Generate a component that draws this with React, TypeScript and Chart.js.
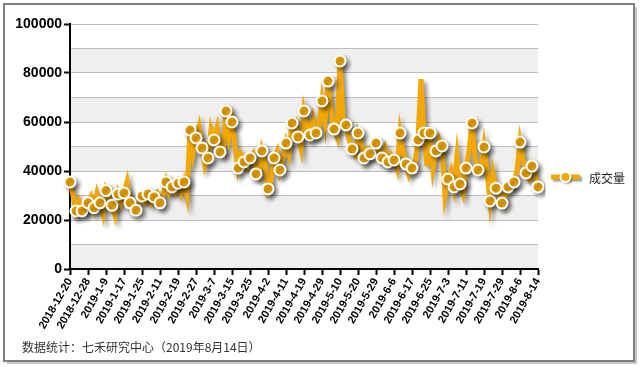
import React, { useEffect, useRef } from 'react';
import { Chart, registerables } from 'chart.js';

Chart.register(...registerables);

// ---- data ----
const days2018 = ['12-20', '12-21', '12-24', '12-25', '12-26', '12-27', '12-28'];
const days2019 = [
  '1-2', '1-3', '1-4', '1-7', '1-8', '1-9', '1-10', '1-11', '1-14', '1-15', '1-16', '1-17', '1-18',
  '1-21', '1-22', '1-23', '1-24', '1-25', '1-28', '1-29', '1-30', '1-31', '2-1',
  '2-11', '2-12', '2-13', '2-14', '2-15', '2-18', '2-19', '2-20', '2-21', '2-22', '2-25', '2-26', '2-27', '2-28',
  '3-1', '3-4', '3-5', '3-6', '3-7', '3-8', '3-11', '3-12', '3-13', '3-14', '3-15', '3-18', '3-19', '3-20',
  '3-21', '3-22', '3-25', '3-26', '3-27', '3-28', '3-29',
  '4-1', '4-2', '4-3', '4-4', '4-8', '4-9', '4-10', '4-11', '4-12', '4-15', '4-16', '4-17', '4-18', '4-19',
  '4-22', '4-23', '4-24', '4-25', '4-26', '4-29', '4-30',
  '5-6', '5-7', '5-8', '5-9', '5-10', '5-13', '5-14', '5-15', '5-16', '5-17', '5-20', '5-21', '5-22', '5-23',
  '5-27', '5-28', '5-29', '5-30', '5-31',
  '6-3', '6-4', '6-5', '6-6', '6-10', '6-11', '6-12', '6-13', '6-14', '6-17', '6-18', '6-19', '6-20', '6-21',
  '6-24', '6-25', '6-26', '6-27', '6-28',
  '7-1', '7-2', '7-3', '7-4', '7-5', '7-8', '7-9', '7-10', '7-11', '7-12', '7-15', '7-16', '7-17', '7-18',
  '7-19', '7-22', '7-23', '7-24', '7-25', '7-26', '7-29', '7-30', '7-31',
  '8-1', '8-2', '8-5', '8-6', '8-7', '8-8', '8-9', '8-12', '8-13', '8-14',
];
const categories = [...days2018.map((d) => '2018-' + d), ...days2019.map((d) => '2019-' + d)];

const seriesName = '成交量';
const volume = [
  35500, 30000, 23700, 27500, 23700, 23000, 27000, 29500, 25000, 31000,
  27000, 22500, 32000, 29000, 26000, 22000, 30600, 27000, 31000, 35500,
  27000, 23500, 24000, 27000, 29800, 27500, 30600, 27000, 29400, 31000,
  27000, 30000, 35500, 31000, 33500, 31500, 35000, 31000, 35500, 30000,
  56700, 47000, 53500, 58000, 49400, 42000, 45300, 57000, 52700, 57500,
  47800, 47000, 64500, 54000, 60000, 50000, 41200, 46500, 43700, 41500,
  45300, 47000, 38800, 37500, 48200, 44000, 32700, 36000, 45300, 48000,
  40400, 45000, 51400, 47000, 59600, 60500, 53900, 49000, 64500, 59000,
  54700, 61000, 55500, 58000, 68600, 60000, 76700, 65000, 57100, 54000,
  84900, 62000, 58800, 53000, 49000, 47000, 55500, 52000, 45300, 48500,
  47000, 52000, 51400, 47500, 45300, 49000, 43700, 46500, 44500, 41000,
  55500, 48000, 42900, 38500, 41200, 43000, 52700, 77500, 55500, 42000,
  55500, 41000, 48200, 53000, 50200, 30000, 36700, 40000, 33500, 46000,
  34700, 31000, 41200, 48000, 59600, 46000, 40400, 40000, 49800, 40000,
  27800, 39000, 33000, 32000, 26900, 30000, 33500, 33500, 35500, 40000,
  51800, 45000, 39200, 37000, 42000, 39000, 33500,
];

const yMin = 0;
const yMax = 100000;
const yGridStep = 10000;
const yLabelStep = 20000;
const xLabelEvery = 6;
const markerEvery = 2;
const footerText = '数据统计：七禾研究中心（2019年8月14日）';

const ORANGE = '#F2A800';
const W = 640;
const H = 367;

const framePlugin = {
  id: 'frameAndBands',
  afterLayout(chart: any) {
    // let the y tick labels use the space left of the axis box (avoid label clipping)
    chart.scales.y.left = 0;
  },
  beforeDraw(chart: any) {
    const { ctx, chartArea } = chart;
    const y = chart.scales.y;
    ctx.save();
    ctx.fillStyle = '#ffffff';
    ctx.fillRect(0, 0, W, H);
    ctx.fillStyle = 'rgba(0,0,0,0.22)';
    ctx.fillRect(7, 7, 630, 357);
    ctx.fillStyle = '#ffffff';
    ctx.fillRect(4, 4, 630, 357);
    ctx.strokeStyle = '#808080';
    ctx.lineWidth = 2;
    ctx.strokeRect(4, 4, 630, 357);
    ctx.fillStyle = '#efefef';
    for (let v = yMin; v < yMax; v += yGridStep * 2) {
      const top = y.getPixelForValue(v + yGridStep);
      const bottom = y.getPixelForValue(v);
      ctx.fillRect(chartArea.left, top, chartArea.right - chartArea.left, bottom - top);
    }
    ctx.restore();
  },
};

const shadowPlugin = {
  id: 'lineShadow',
  beforeDatasetsDraw(chart: any) {
    const ctx = chart.ctx;
    ctx.save();
    ctx.shadowColor = 'rgba(0,0,0,0.45)';
    ctx.shadowOffsetX = 3;
    ctx.shadowOffsetY = 3;
    ctx.shadowBlur = 4;
  },
  afterDatasetsDraw(chart: any) {
    chart.ctx.restore();
  },
};

function makeLegendIcon(): HTMLCanvasElement {
  const c = document.createElement('canvas');
  c.width = 36;
  c.height = 18;
  const g = c.getContext('2d')!;
  g.shadowColor = 'rgba(0,0,0,0.4)';
  g.shadowOffsetX = 2;
  g.shadowOffsetY = 2;
  g.shadowBlur = 2;
  g.strokeStyle = ORANGE;
  g.lineWidth = 5;
  g.beginPath();
  g.moveTo(2, 8);
  g.lineTo(31, 8);
  g.stroke();
  g.beginPath();
  g.arc(16.5, 8, 5, 0, Math.PI * 2);
  g.fillStyle = ORANGE;
  g.fill();
  g.shadowColor = 'transparent';
  g.lineWidth = 2;
  g.strokeStyle = '#ffffff';
  g.stroke();
  return c;
}

export default function App() {
  const ref = useRef<HTMLCanvasElement | null>(null);

  useEffect(() => {
    document.body.style.margin = '0';
    const canvas = ref.current;
    if (!canvas) return;
    const icon = makeLegendIcon();
    const chart = new Chart(canvas, {
      type: 'line',
      data: {
        labels: categories,
        datasets: [
          {
            label: seriesName,
            data: volume,
            borderColor: ORANGE,
            backgroundColor: ORANGE,
            borderWidth: 5,
            tension: 0,
            fill: false,
            pointRadius: (c: any) => (c.dataIndex % markerEvery === 0 ? 5.5 : 0),
            pointHoverRadius: (c: any) => (c.dataIndex % markerEvery === 0 ? 5.5 : 0),
            pointBackgroundColor: ORANGE,
            pointBorderColor: '#ffffff',
            pointBorderWidth: 2,
          } as any,
        ],
      },
      options: {
        responsive: false,
        animation: false,
        devicePixelRatio: 1,
        events: [],
        layout: { padding: { left: 22, right: 7, top: 24, bottom: 0 } },
        scales: {
          x: {
            type: 'category',
            offset: false,
            border: { display: true, color: '#000', width: 2 },
            grid: {
              drawOnChartArea: false,
              drawTicks: true,
              tickLength: 6,
              tickWidth: 2,
              tickColor: (c: any) => (c.index % xLabelEvery === 0 ? '#000' : 'rgba(0,0,0,0)'),
            },
            ticks: {
              autoSkip: false,
              minRotation: 60,
              maxRotation: 60,
              padding: 1,
              color: '#000',
              font: { family: 'Arial, "Liberation Sans", sans-serif', size: 11, weight: 'bold' },
              callback: (_v: any, i: number) => (i % xLabelEvery === 0 ? categories[i] : ''),
            },
            afterFit: (s: any) => {
              s.height = 67.6;
            },
          },
          y: {
            min: yMin,
            max: yMax,
            border: { display: true, color: '#000', width: 2 },
            grid: {
              color: (c: any) => (c.tick && c.tick.value === 0 ? 'rgba(0,0,0,0)' : '#bcbcbc'),
              lineWidth: 1,
              drawTicks: true,
              tickLength: 6,
              tickWidth: 2,
              tickColor: (c: any) => (c.tick && c.tick.value % yLabelStep === 0 ? '#000' : 'rgba(0,0,0,0)'),
            },
            ticks: {
              stepSize: yGridStep,
              padding: 2,
              color: '#000',
              font: { family: 'Arial, "Liberation Sans", sans-serif', size: 14, weight: 'bold' },
              callback: (v: any) => (Number(v) % yLabelStep === 0 ? String(v) : ''),
            },
            afterFit: (s: any) => {
              s.width = 48;
            },
          },
        },
        plugins: {
          legend: {
            display: true,
            position: 'right',
            align: 'center',
            fullSize: false,
            maxWidth: 95,
            title: {
              display: true,
              text: ' ',
              font: { size: 10 },
              padding: { top: 51, bottom: 0 },
            },
            labels: {
              usePointStyle: true,
              pointStyleWidth: 32,
              padding: 13,
              color: '#222',
              font: { family: '"Noto Sans CJK SC", sans-serif', size: 12 },
              generateLabels: (ch: any) => {
                const items = (Chart.defaults.plugins.legend.labels as any).generateLabels(ch);
                items.forEach((it: any) => {
                  it.pointStyle = icon;
                });
                return items;
              },
            },
          },
          title: {
            display: true,
            position: 'bottom',
            align: 'start',
            text: footerText,
            color: '#333',
            font: { family: '"Noto Sans CJK SC", sans-serif', size: 12, weight: 'normal', lineHeight: 1.2 },
            padding: { top: 4, bottom: 12 },
          },
          tooltip: { enabled: false },
        },
      } as any,
      plugins: [framePlugin, shadowPlugin],
    });
    return () => chart.destroy();
  }, []);

  return (
    <div style={{ position: 'relative', width: W, height: H }}>
      <canvas ref={ref} width={W} height={H} style={{ display: 'block', width: W, height: H }} />
    </div>
  );
}
